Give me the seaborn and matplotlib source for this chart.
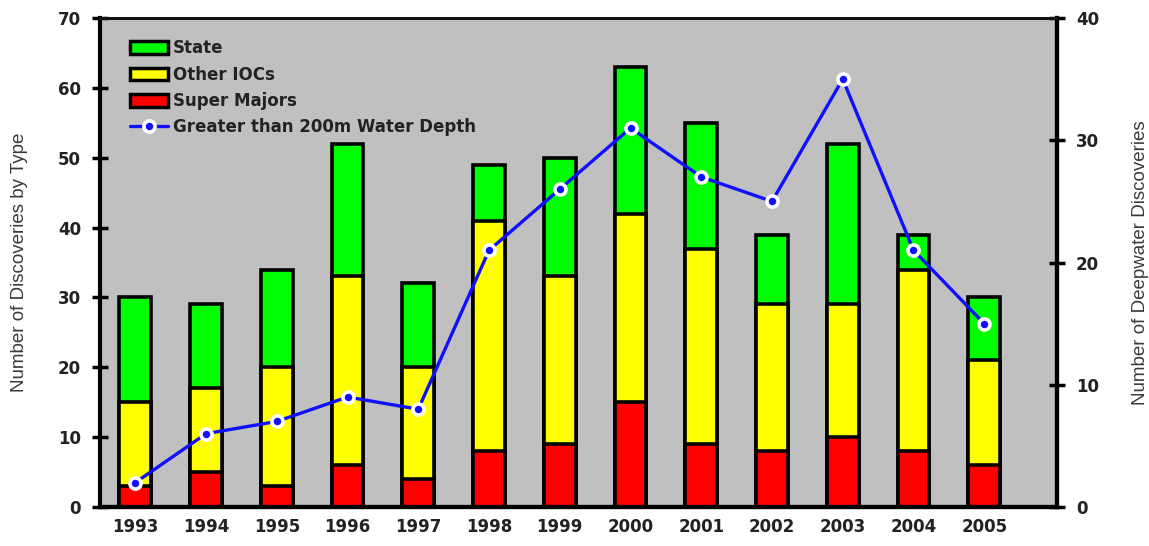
import numpy as np
import pandas as pd
import matplotlib
matplotlib.use("Agg")
import matplotlib.pyplot as plt
from matplotlib.patches import Patch
from matplotlib.lines import Line2D
import seaborn as sns

# Discoveries per year, split by company type, plus deepwater count
years = ["1993", "1994", "1995", "1996", "1997", "1998", "1999",
         "2000", "2001", "2002", "2003", "2004", "2005"]
super_majors = [3, 5, 3, 6, 4, 8, 9, 15, 9, 8, 10, 8, 6]
other_iocs = [12, 12, 17, 27, 16, 33, 24, 27, 28, 21, 19, 26, 15]
state = [15, 12, 14, 19, 12, 8, 17, 21, 18, 10, 23, 5, 9]
deepwater = [2, 6, 7, 9, 8, 21, 26, 31, 27, 25, 35, 21, 15]

df = pd.DataFrame({
    "year": years,
    "Super Majors": super_majors,
    "Other IOCs": other_iocs,
    "State": state,
    "Deepwater": deepwater,
})
df["red_top"] = df["Super Majors"]
df["yellow_top"] = df["red_top"] + df["Other IOCs"]
df["total"] = df["yellow_top"] + df["State"]

sns.set_theme(style="white")
plt.rcParams["font.family"] = ["Liberation Sans", "DejaVu Sans"]

GREEN, YELLOW, RED, BLUE = "#00FF00", "#FFFF00", "#FF0000", "#1010FF"
TXT = "#222222"
BOLD_FONT = "DejaVu Sans"

fig = plt.figure(figsize=(11.49, 5.46), dpi=100)
ax = fig.add_axes([0.087, 0.0714, 0.833, 0.8956])
ax.set_facecolor("#C0C0C0")

bar_kw = dict(width=0.45, edgecolor="black", linewidth=2.6, saturation=1, ax=ax)
sns.barplot(data=df, x="year", y="total", color=GREEN, **bar_kw)
sns.barplot(data=df, x="year", y="yellow_top", color=YELLOW, **bar_kw)
sns.barplot(data=df, x="year", y="red_top", color=RED, **bar_kw)

ax.set_ylim(0, 70)
ax.set_yticks(range(0, 71, 10))
ax.set_xlim(-0.5, 13.03)
ax.set_xlabel("")
ax.set_ylabel("Number of Discoveries by Type", fontsize=13.5, color="#3a3a3a",
              labelpad=22)

ax2 = ax.twinx()
xpos = np.arange(len(df))
sns.lineplot(x=xpos, y=df["Deepwater"], ax=ax2, color=BLUE, linewidth=2.4,
             marker="o", markersize=8, markerfacecolor=BLUE,
             markeredgecolor="white", markeredgewidth=2.6)
ax2.set_ylim(0, 40)
ax2.set_yticks(range(0, 41, 10))
ax2.set_xlim(-0.5, 13.03)
ax2.set_ylabel("Number of Deepwater Discoveries", fontsize=13.5, color="#3a3a3a",
               labelpad=24)

for a in (ax, ax2):
    for side in ("left", "right", "bottom"):
        a.spines[side].set_linewidth(3)
        a.spines[side].set_color("black")
    a.spines["top"].set_linewidth(2)
    a.spines["top"].set_color("#111111")
    a.tick_params(axis="y", direction="inout", length=11, width=2.5,
                  colors="black", labelcolor=TXT, labelsize=12, pad=8)
    a.tick_params(axis="x", length=0, labelsize=12, labelcolor=TXT, pad=8)
    for lbl in a.get_yticklabels() + a.get_xticklabels():
        lbl.set_fontweight("bold")
        lbl.set_family(BOLD_FONT)
ax.tick_params(axis="y", left=True, right=False)
ax2.tick_params(axis="y", left=False, right=True)
ax2.spines["left"].set_visible(False)

handles = [
    Patch(facecolor=GREEN, edgecolor="black", linewidth=2.5, label="State"),
    Patch(facecolor=YELLOW, edgecolor="black", linewidth=2.5, label="Other IOCs"),
    Patch(facecolor=RED, edgecolor="black", linewidth=2.5, label="Super Majors"),
    Line2D([], [], color=BLUE, linewidth=2.4, marker="o", markersize=8,
           markerfacecolor=BLUE, markeredgecolor="white", markeredgewidth=2.6,
           label="Greater than 200m Water Depth"),
]
leg = ax2.legend(handles=handles, loc="upper left", bbox_to_anchor=(0.024, 0.97),
                 frameon=False, prop={"family": BOLD_FONT, "weight": "bold", "size": 12},
                 handlelength=2.3, handleheight=0.8, handletextpad=0.3,
                 labelspacing=0.5, borderaxespad=0)
for t in leg.get_texts():
    t.set_color(TXT)

fig.savefig("out.png", dpi=100)
